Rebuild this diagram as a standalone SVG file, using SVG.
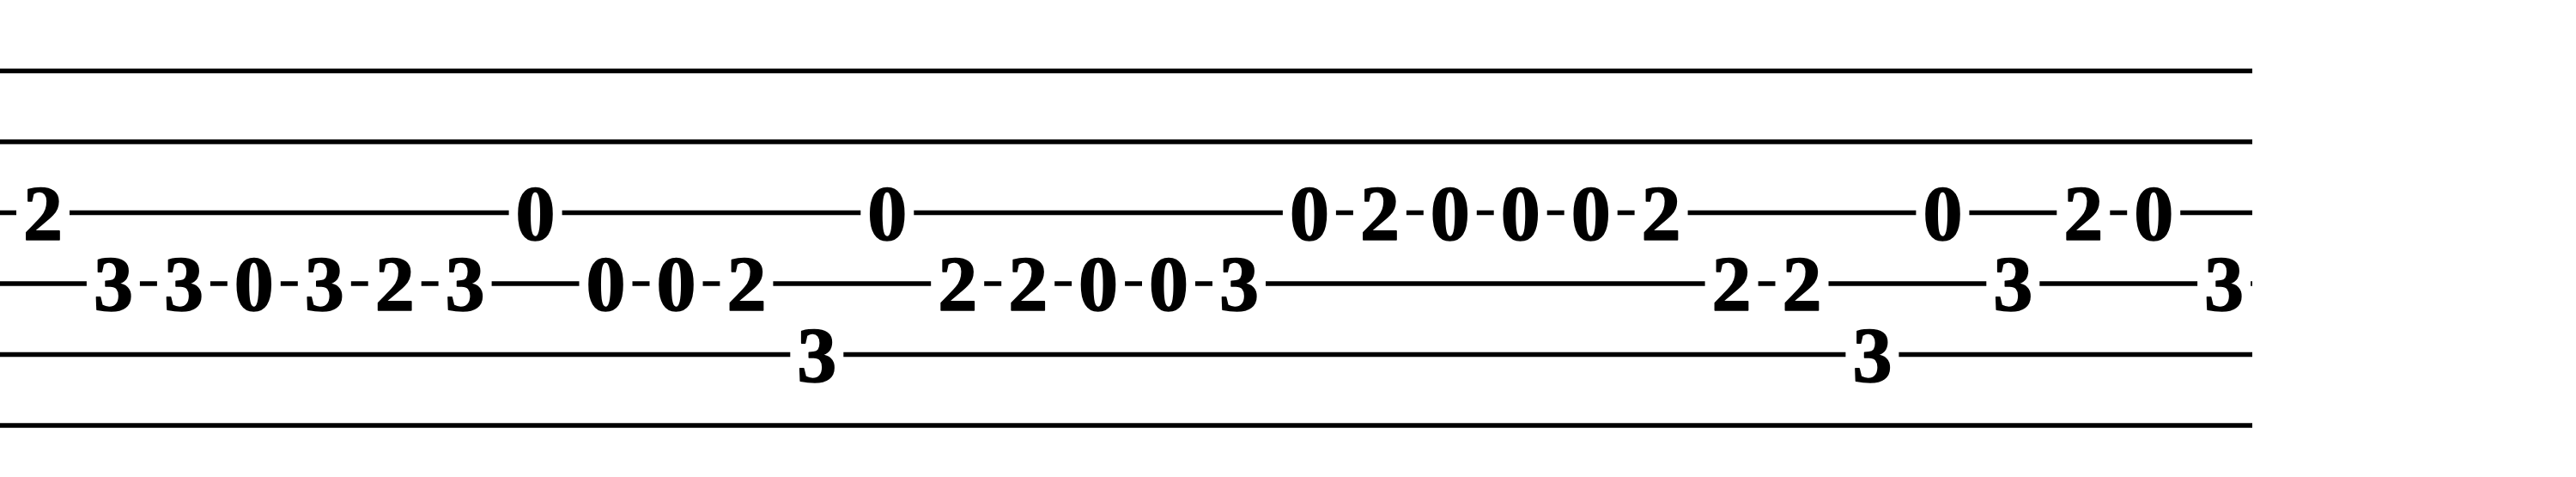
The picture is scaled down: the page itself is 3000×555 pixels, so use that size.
<svg xmlns="http://www.w3.org/2000/svg" width="3000" height="555" viewBox="0 0 3000 555">
<style>
.str{stroke:#000;stroke-width:5.3;fill:none}
.bg{fill:#fff}
.n{font-family:"Liberation Serif","Times New Roman",serif;font-weight:bold;font-size:92px;text-anchor:middle;fill:#000;stroke:#000;stroke-width:1.6;stroke-linejoin:round}
</style>
<rect width="3000" height="555" fill="#fff"/>
<g id="strings">
<line class="str" x1="0" y1="82.5" x2="2623" y2="82.5"/>
<line class="str" x1="0" y1="165" x2="2623" y2="165"/>
<line class="str" x1="0" y1="247.5" x2="2623" y2="247.5"/>
<line class="str" x1="0" y1="330" x2="2623" y2="330"/>
<line class="str" x1="0" y1="412.5" x2="2623" y2="412.5"/>
<line class="str" x1="0" y1="495" x2="2623" y2="495"/>
</g>
<g id="notes">
<g id="n0"><rect class="bg" x="19" y="237.5" width="62" height="20"/><text class="n" x="50" y="278.5">2</text></g>
<g id="n1"><rect class="bg" x="100.9" y="320" width="62" height="20"/><text class="n" x="131.9" y="361">3</text></g>
<g id="n2"><rect class="bg" x="182.9" y="320" width="62" height="20"/><text class="n" x="213.9" y="361">3</text></g>
<g id="n3"><rect class="bg" x="264.8" y="320" width="62" height="20"/><text class="n" x="295.8" y="361">0</text></g>
<g id="n4"><rect class="bg" x="346.8" y="320" width="62" height="20"/><text class="n" x="377.8" y="361">3</text></g>
<g id="n5"><rect class="bg" x="428.7" y="320" width="62" height="20"/><text class="n" x="459.7" y="361">2</text></g>
<g id="n6"><rect class="bg" x="510.6" y="320" width="62" height="20"/><text class="n" x="541.6" y="361">3</text></g>
<g id="n7"><rect class="bg" x="592.6" y="237.5" width="62" height="20"/><text class="n" x="623.6" y="278.5">0</text></g>
<g id="n8"><rect class="bg" x="674.5" y="320" width="62" height="20"/><text class="n" x="705.5" y="361">0</text></g>
<g id="n9"><rect class="bg" x="756.5" y="320" width="62" height="20"/><text class="n" x="787.5" y="361">0</text></g>
<g id="n10"><rect class="bg" x="838.4" y="320" width="62" height="20"/><text class="n" x="869.4" y="361">2</text></g>
<g id="n11"><rect class="bg" x="920.3" y="402.5" width="62" height="20"/><text class="n" x="951.3" y="443.5">3</text></g>
<g id="n12"><rect class="bg" x="1002.3" y="237.5" width="62" height="20"/><text class="n" x="1033.3" y="278.5">0</text></g>
<g id="n13"><rect class="bg" x="1084.2" y="320" width="62" height="20"/><text class="n" x="1115.2" y="361">2</text></g>
<g id="n14"><rect class="bg" x="1166.2" y="320" width="62" height="20"/><text class="n" x="1197.2" y="361">2</text></g>
<g id="n15"><rect class="bg" x="1248.1" y="320" width="62" height="20"/><text class="n" x="1279.1" y="361">0</text></g>
<g id="n16"><rect class="bg" x="1330" y="320" width="62" height="20"/><text class="n" x="1361" y="361">0</text></g>
<g id="n17"><rect class="bg" x="1412" y="320" width="62" height="20"/><text class="n" x="1443" y="361">3</text></g>
<g id="n18"><rect class="bg" x="1493.9" y="237.5" width="62" height="20"/><text class="n" x="1524.9" y="278.5">0</text></g>
<g id="n19"><rect class="bg" x="1575.9" y="237.5" width="62" height="20"/><text class="n" x="1606.9" y="278.5">2</text></g>
<g id="n20"><rect class="bg" x="1657.8" y="237.5" width="62" height="20"/><text class="n" x="1688.8" y="278.5">0</text></g>
<g id="n21"><rect class="bg" x="1739.7" y="237.5" width="62" height="20"/><text class="n" x="1770.7" y="278.5">0</text></g>
<g id="n22"><rect class="bg" x="1821.7" y="237.5" width="62" height="20"/><text class="n" x="1852.7" y="278.5">0</text></g>
<g id="n23"><rect class="bg" x="1903.6" y="237.5" width="62" height="20"/><text class="n" x="1934.6" y="278.5">2</text></g>
<g id="n24"><rect class="bg" x="1985.6" y="320" width="62" height="20"/><text class="n" x="2016.6" y="361">2</text></g>
<g id="n25"><rect class="bg" x="2067.5" y="320" width="62" height="20"/><text class="n" x="2098.5" y="361">2</text></g>
<g id="n26"><rect class="bg" x="2149.4" y="402.5" width="62" height="20"/><text class="n" x="2180.4" y="443.5">3</text></g>
<g id="n27"><rect class="bg" x="2231.4" y="237.5" width="62" height="20"/><text class="n" x="2262.4" y="278.5">0</text></g>
<g id="n28"><rect class="bg" x="2313.3" y="320" width="62" height="20"/><text class="n" x="2344.3" y="361">3</text></g>
<g id="n29"><rect class="bg" x="2395.3" y="237.5" width="62" height="20"/><text class="n" x="2426.3" y="278.5">2</text></g>
<g id="n30"><rect class="bg" x="2477.2" y="237.5" width="62" height="20"/><text class="n" x="2508.2" y="278.5">0</text></g>
<g id="n31"><rect class="bg" x="2559.1" y="320" width="62" height="20"/><text class="n" x="2590.1" y="361">3</text></g>
</g>
</svg>
